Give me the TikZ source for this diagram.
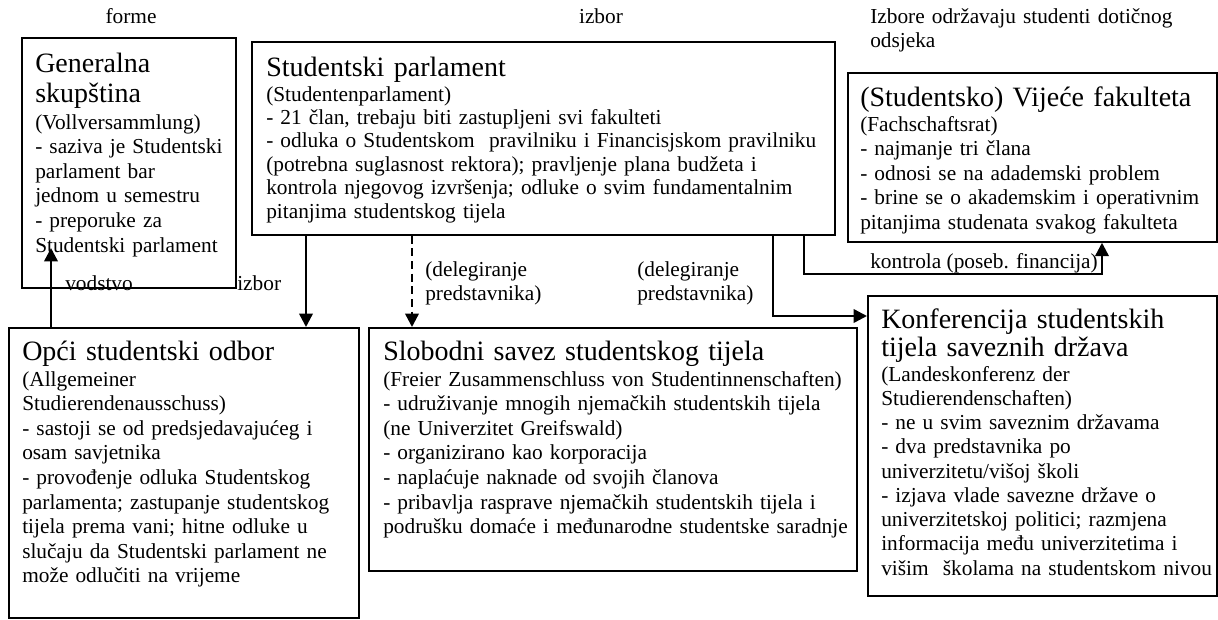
\documentclass[tikz,border=0pt]{standalone}
\usepackage{fontspec}
\setmainfont{Liberation Serif}
\usetikzlibrary{arrows.meta}
\newcommand\titlefont{\fontsize{21}{22.5}\selectfont}
\newcommand\bodyfont{\fontsize{16}{18.45}\selectfont}
\tikzset{
  box/.style={draw, line width=1.3pt, anchor=north west, inner sep=0pt},
  ttl/.style={anchor=base west, inner sep=0pt, font=\titlefont, align=left, text width=40cm},
  bdy/.style={anchor=base west, inner sep=0pt, font=\bodyfont, align=left, text width=40cm},
  lbl/.style={anchor=base west, inner sep=0pt, font=\bodyfont},
  lblm/.style={anchor=base west, inner sep=0pt, font=\bodyfont, align=left, text width=10cm},
  conn/.style={line width=1.8pt, -{Triangle[length=10pt,width=10pt]}},
  dconn/.style={conn, dash pattern=on 6pt off 3.5pt},
}
\begin{document}
\begin{tikzpicture}[x=0.75pt,y=-0.75pt]
\useasboundingbox (0,0) rectangle (1218,619);
% boxes
\node[box, minimum width=214*0.75pt, minimum height=250*0.75pt] (b1) at (21,37) {};
\node[box, minimum width=583*0.75pt, minimum height=193*0.75pt] (b2) at (251,41) {};
\node[box, minimum width=369*0.75pt, minimum height=169*0.75pt] (b3) at (847,72) {};
\node[box, minimum width=350*0.75pt, minimum height=290*0.75pt] (b4) at (8,327) {};
\node[box, minimum width=488*0.75pt, minimum height=243*0.75pt] (b5) at (368,327) {};
\node[box, minimum width=349*0.75pt, minimum height=300*0.75pt] (b6) at (867,295) {};
% texts
\node[ttl] (t1) at (35,72) {Generalna\\skupština};
\node[bdy] (x1) at (35,129) {(Vollversammlung)\\- saziva je Studentski\\parlament bar\\jednom u semestru\\- preporuke za\\Studentski parlament};
\node[ttl] (t2) at (266,76) {Studentski parlament};
\node[bdy, font=\fontsize{16}{17.6}\selectfont] (x2) at (266,101) {(Studentenparlament)\\- 21 član, trebaju biti zastupljeni svi fakulteti\\- odluka o Studentskom\ \ pravilniku i Financisjskom pravilniku\\(potrebna suglasnost rektora); pravljenje plana budžeta i\\kontrola njegovog izvršenja; odluke o svim fundamentalnim\\pitanjima studentskog tijela};
\node[ttl] (t3) at (860,106) {(Studentsko) Vijeće fakulteta};
\node[bdy] (x3) at (860,131) {(Fachschaftsrat)\\- najmanje tri člana\\- odnosi se na adademski problem\\- brine se o akademskim i operativnim\\pitanjima studenata svakog fakulteta};
\node[ttl] (t4) at (22,360) {Opći studentski odbor};
\node[bdy] (x4) at (22,386) {(Allgemeiner\\Studierendenausschuss)\\- sastoji se od predsjedavajućeg i\\osam savjetnika\\- provođenje odluka Studentskog\\parlamenta; zastupanje studentskog\\tijela prema vani; hitne odluke u\\slučaju da Studentski parlament ne\\može odlučiti na vrijeme};
\node[ttl] (t5) at (383,360) {Slobodni savez studentskog tijela};
\node[bdy] (x5) at (383,386) {(Freier Zusammenschluss von Studentinnenschaften)\\- udruživanje mnogih njemačkih studentskih tijela\\(ne Univerzitet Greifswald)\\- organizirano kao korporacija\\- naplaćuje naknade od svojih članova\\- pribavlja rasprave njemačkih studentskih tijela i\\podrušku domaće i međunarodne studentske saradnje};
\node[ttl, font=\fontsize{21}{21}\selectfont] (t6) at (881,328) {Konferencija studentskih\\tijela saveznih država};
\node[bdy, font=\fontsize{16}{18.2}\selectfont] (x6) at (881,381) {(Landeskonferenz der\\Studierendenschaften)\\- ne u svim saveznim državama\\- dva predstavnika po\\univerzitetu/višoj školi\\- izjava vlade savezne države o\\univerzitetskoj politici; razmjena\\informacija među univerzitetima i\\višim\ \ školama na studentskom nivou};
% labels
\node[lbl, anchor=base] (l1) at (131,23) {forme};
\node[lbl, anchor=base] (l2) at (601,23) {izbor};
\node[lblm] (l3) at (870,23) {Izbore održavaju studenti dotičnog\\odsjeka};
\node[lbl] (l4) at (65,290) {vodstvo};
\node[lbl] (l5) at (237,290) {izbor};
\node[lblm] (l6) at (425,276) {(delegiranje\\predstavnika)};
\node[lblm] (l7) at (637,276) {(delegiranje\\predstavnika)};
\node[lbl] (l8) at (870,268) {kontrola (poseb. financija)};
% connectors
\coordinate (p1) at (51,248);
\draw[conn] (b4.north west -| p1) -- (p1);
\draw[conn] (b2.south west -| 306,0) -- (b4.north west -| 306,0);
\draw[dconn] (b2.south west -| 412,0) -- (b5.north west -| 412,0);
\coordinate (k1) at (804,274);
\coordinate (k2) at (1102,274);
\draw[conn] (b2.south west -| k1) -- (k1) -- (k2) -- (b3.south west -| k2);
\coordinate (c1) at (773,316);
\draw[conn] (b2.south west -| c1) -- (c1) -- (b6.north west |- c1);
\end{tikzpicture}
\end{document}
